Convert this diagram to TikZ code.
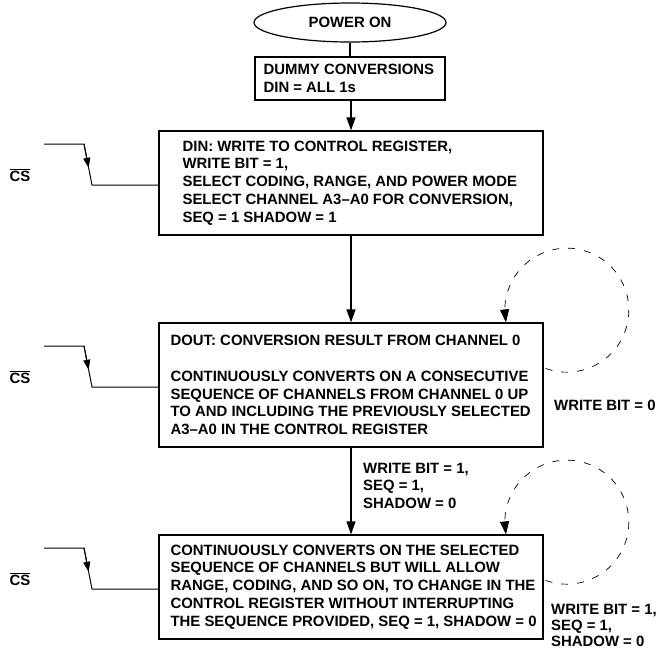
\documentclass[tikz,border=0pt]{standalone}
\usepackage{fontspec}
\setmainfont{Liberation Sans}
\usetikzlibrary{arrows.meta,shapes.geometric,calc}
\begin{document}
\begin{tikzpicture}[x=1pt,y=1pt,
  every node/.style={font=\fontsize{14.9}{17.8}\selectfont\bfseries},
  box/.style={draw,line width=1.2pt,minimum width=384pt,inner sep=0pt},
  txt/.style={align=left,inner sep=0pt,anchor=west},
  lbl/.style={align=left,inner sep=0pt,anchor=north west},
  flow/.style={line width=1.2pt,-{Triangle[length=13pt,width=9pt]}},
  plainline/.style={line width=1.2pt},
  loopline/.style={line width=0.7pt,dash pattern=on 7pt off 9pt,-{Triangle[length=13pt,width=9pt]}},
  sig/.style={line width=1pt},
  sigarrow/.style={line width=1pt,-{Triangle[length=10pt,width=7pt]}},
]
\useasboundingbox (0,0) rectangle (658,-651);

% main flow
\node[ellipse,draw,line width=1.2pt,minimum width=192pt,minimum height=39pt,inner sep=0pt] (pwr) at (350,-22.5) {POWER ON};
\node[box,minimum width=190pt,minimum height=43pt] (dummy) at (350,-78.5) {};
\node[txt] (dummyt) at ($(dummy.west)+(9,0)$) {DUMMY CONVERSIONS\\DIN = ALL 1s};

\node[box,minimum height=104pt] (b3) at (351,-183) {};
\node[txt] (b3t) at ($(b3.west)+(24,0)$) {DIN: WRITE TO CONTROL REGISTER,\\WRITE BIT = 1,\\SELECT CODING, RANGE, AND POWER MODE\\SELECT CHANNEL A3–A0 FOR CONVERSION,\\SEQ = 1 SHADOW = 1};

\node[box,minimum height=124pt] (b4) at (351,-385) {};
\node[txt] (b4t) at ($(b4.west)+(12,0)$) {DOUT: CONVERSION RESULT FROM CHANNEL 0\\ \mbox{}\\CONTINUOUSLY CONVERTS ON A CONSECUTIVE\\SEQUENCE OF CHANNELS FROM CHANNEL 0 UP\\TO AND INCLUDING THE PREVIOUSLY SELECTED\\A3–A0 IN THE CONTROL REGISTER};

\node[box,minimum height=104pt] (b5) at (351,-587) {};
\node[txt] (b5t) at ($(b5.west)+(12,0)$) {CONTINUOUSLY CONVERTS ON THE SELECTED\\SEQUENCE OF CHANNELS BUT WILL ALLOW\\RANGE, CODING, AND SO ON, TO CHANGE IN THE\\CONTROL REGISTER WITHOUT INTERRUPTING\\THE SEQUENCE PROVIDED, SEQ = 1, SHADOW = 0};

\draw[plainline] (pwr.south) -- (dummy.north);
\draw[flow] (dummy.south -| b3.north) -- (b3.north);
\draw[flow] (b3.south) -- (b4.north);
\draw[flow] (b4.south) -- (b5.north);

% labels
\node[lbl] (l45) at (363,-462.6) {WRITE BIT = 1,\\SEQ = 1,\\SHADOW = 0};
\node[lbl] (l4) at (554,-399.6) {WRITE BIT = 0};
\node[lbl] (l5) at (551,-603.6) {WRITE BIT = 1,\\[-1.8pt]SEQ = 1,\\[-1.8pt]SHADOW = 0};

% self loops
\draw[loopline] ([shift={(2,-46)}]b4.north east) arc[start angle=-110,end angle=182,radius=62pt] -- ([xshift=155pt]b4.north);
\draw[loopline] ([shift={(2,-46)}]b5.north east) arc[start angle=-110,end angle=182,radius=62pt] -- ([xshift=155pt]b5.north);

% CS signals
\foreach \b/\c in {b3/183,b4/385,b5/587}{
  \coordinate (\b s) at (44,-\c+39);
  \coordinate (\b k) at (84,-\c+39);
  \coordinate (\b d) at (92,-\c-2);
  \draw[sig] (\b s) -- (\b k) -- (\b d) -- ([yshift=-2pt]\b.west);
  \draw[sigarrow] (\b k) -- ($(\b k)!0.58!(\b d)$);
  \node (\b cs) at (20,-\c+8) {$\overline{\mbox{CS}}$};
}
\end{tikzpicture}
\end{document}
